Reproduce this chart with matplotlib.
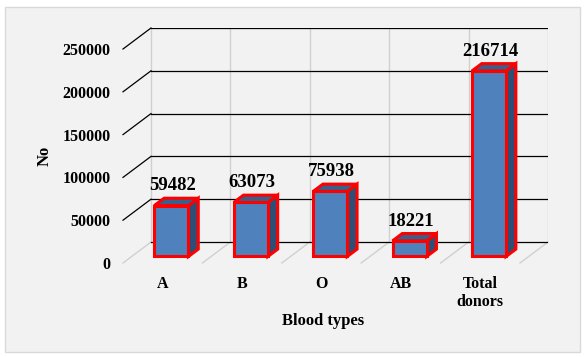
import matplotlib.pyplot as plt
from matplotlib.patches import Polygon, Rectangle

categories = ["A", "B", "O", "AB", "Total\ndonors"]
donors = [59482, 63073, 75938, 18221, 216714]
yticks = [0, 50000, 100000, 150000, 200000, 250000]

W, H = 586, 357
fig = plt.figure(figsize=(W / 100, H / 100), dpi=100)
fig.patch.set_facecolor("white")
fig.patches.append(Rectangle((5 / W, 5 / H), 575 / W, 345 / H, transform=fig.transFigure,
                             facecolor="#f2f2f2", edgecolor="#d9d9d9", lw=1, zorder=-10))

# axes placed so front floor is at (123, 263) px and back wall top at (548, 28) px
ax = fig.add_axes([123 / W, (H - 263) / H, 425 / W, 235 / H])
ax.set_facecolor("none")
n = len(categories)
DX = 28 * 5 / 425 / (1 - 28 / 425)          # depth offset in category units
DY = 21 * 250000 / 235 / (1 - 21 / 235)     # depth offset in value units
ax.set_xlim(-0.5, n - 0.5 + DX)
ax.set_ylim(0, 250000 + DY)
for s in ax.spines.values():
    s.set_visible(False)

font = "Liberation Serif"
grid_gray = "#d0d0d0"

# back wall & floor
for v in yticks:
    ax.plot([-0.5 + DX, n - 0.5 + DX], [v + DY, v + DY], color="black", lw=0.9, zorder=1)
    if v > 0:
        ax.plot([-0.5, -0.5 + DX], [v, v + DY], color="black", lw=0.9, zorder=1, clip_on=False)
for i in range(n + 1):
    x0 = i - 0.5
    ax.plot([x0 + DX, x0 + DX], [DY, 250000 + DY], color=grid_gray, lw=1, zorder=0.5)
    ax.plot([x0, x0 + DX], [0, DY], color=grid_gray, lw=1, zorder=0.5, clip_on=False)

# 3D-looking bars
bw = 0.43
f0, f1 = 0.31, 0.66
front_c, top_c, side_c = "#4f81bd", "#3a5f8b", "#2f4e75"
for i, v in enumerate(donors):
    ox, oy = f0 * DX, f0 * DY
    dx, dy = (f1 - f0) * DX, (f1 - f0) * DY
    xl, xr = i - bw / 2 + ox, i + bw / 2 + ox
    yb, yt = oy, v + oy
    side = [(xr, yb), (xr + dx, yb + dy), (xr + dx, yt + dy), (xr, yt)]
    top = [(xl, yt), (xr, yt), (xr + dx, yt + dy), (xl + dx, yt + dy)]
    front = [(xl, yb), (xr, yb), (xr, yt), (xl, yt)]
    for pts, c in [(side, side_c), (top, top_c), (front, front_c)]:
        ax.add_patch(Polygon(pts, closed=True, facecolor=c, edgecolor="#ff0000",
                             lw=2.2, joinstyle="miter", zorder=3, clip_on=False))
    ax.text(i + ox + dx / 2 - 0.05, yt + dy + 4500, str(v), ha="center", va="bottom",
            fontsize=13.5, fontweight="bold", family=font, zorder=4)

ax.set_xticks(range(n))
ax.set_xticklabels(categories, fontsize=11.5, fontweight="bold", family=font, linespacing=1.25)
ax.set_yticks(yticks)
ax.set_yticklabels([str(t) for t in yticks], fontsize=11.5, fontweight="bold", family=font)
ax.tick_params(axis="x", length=0, pad=9)
ax.tick_params(axis="y", length=0, pad=9)

fig.text(323 / W, 1 - 321 / H, "Blood types", ha="center", va="center",
         fontsize=12, fontweight="bold", family=font)
fig.text(45 / W, 1 - 156 / H, "No", ha="center", va="center", rotation=90,
         fontsize=12, fontweight="bold", family=font)

fig.savefig("out.png", dpi=100, facecolor=fig.get_facecolor())
